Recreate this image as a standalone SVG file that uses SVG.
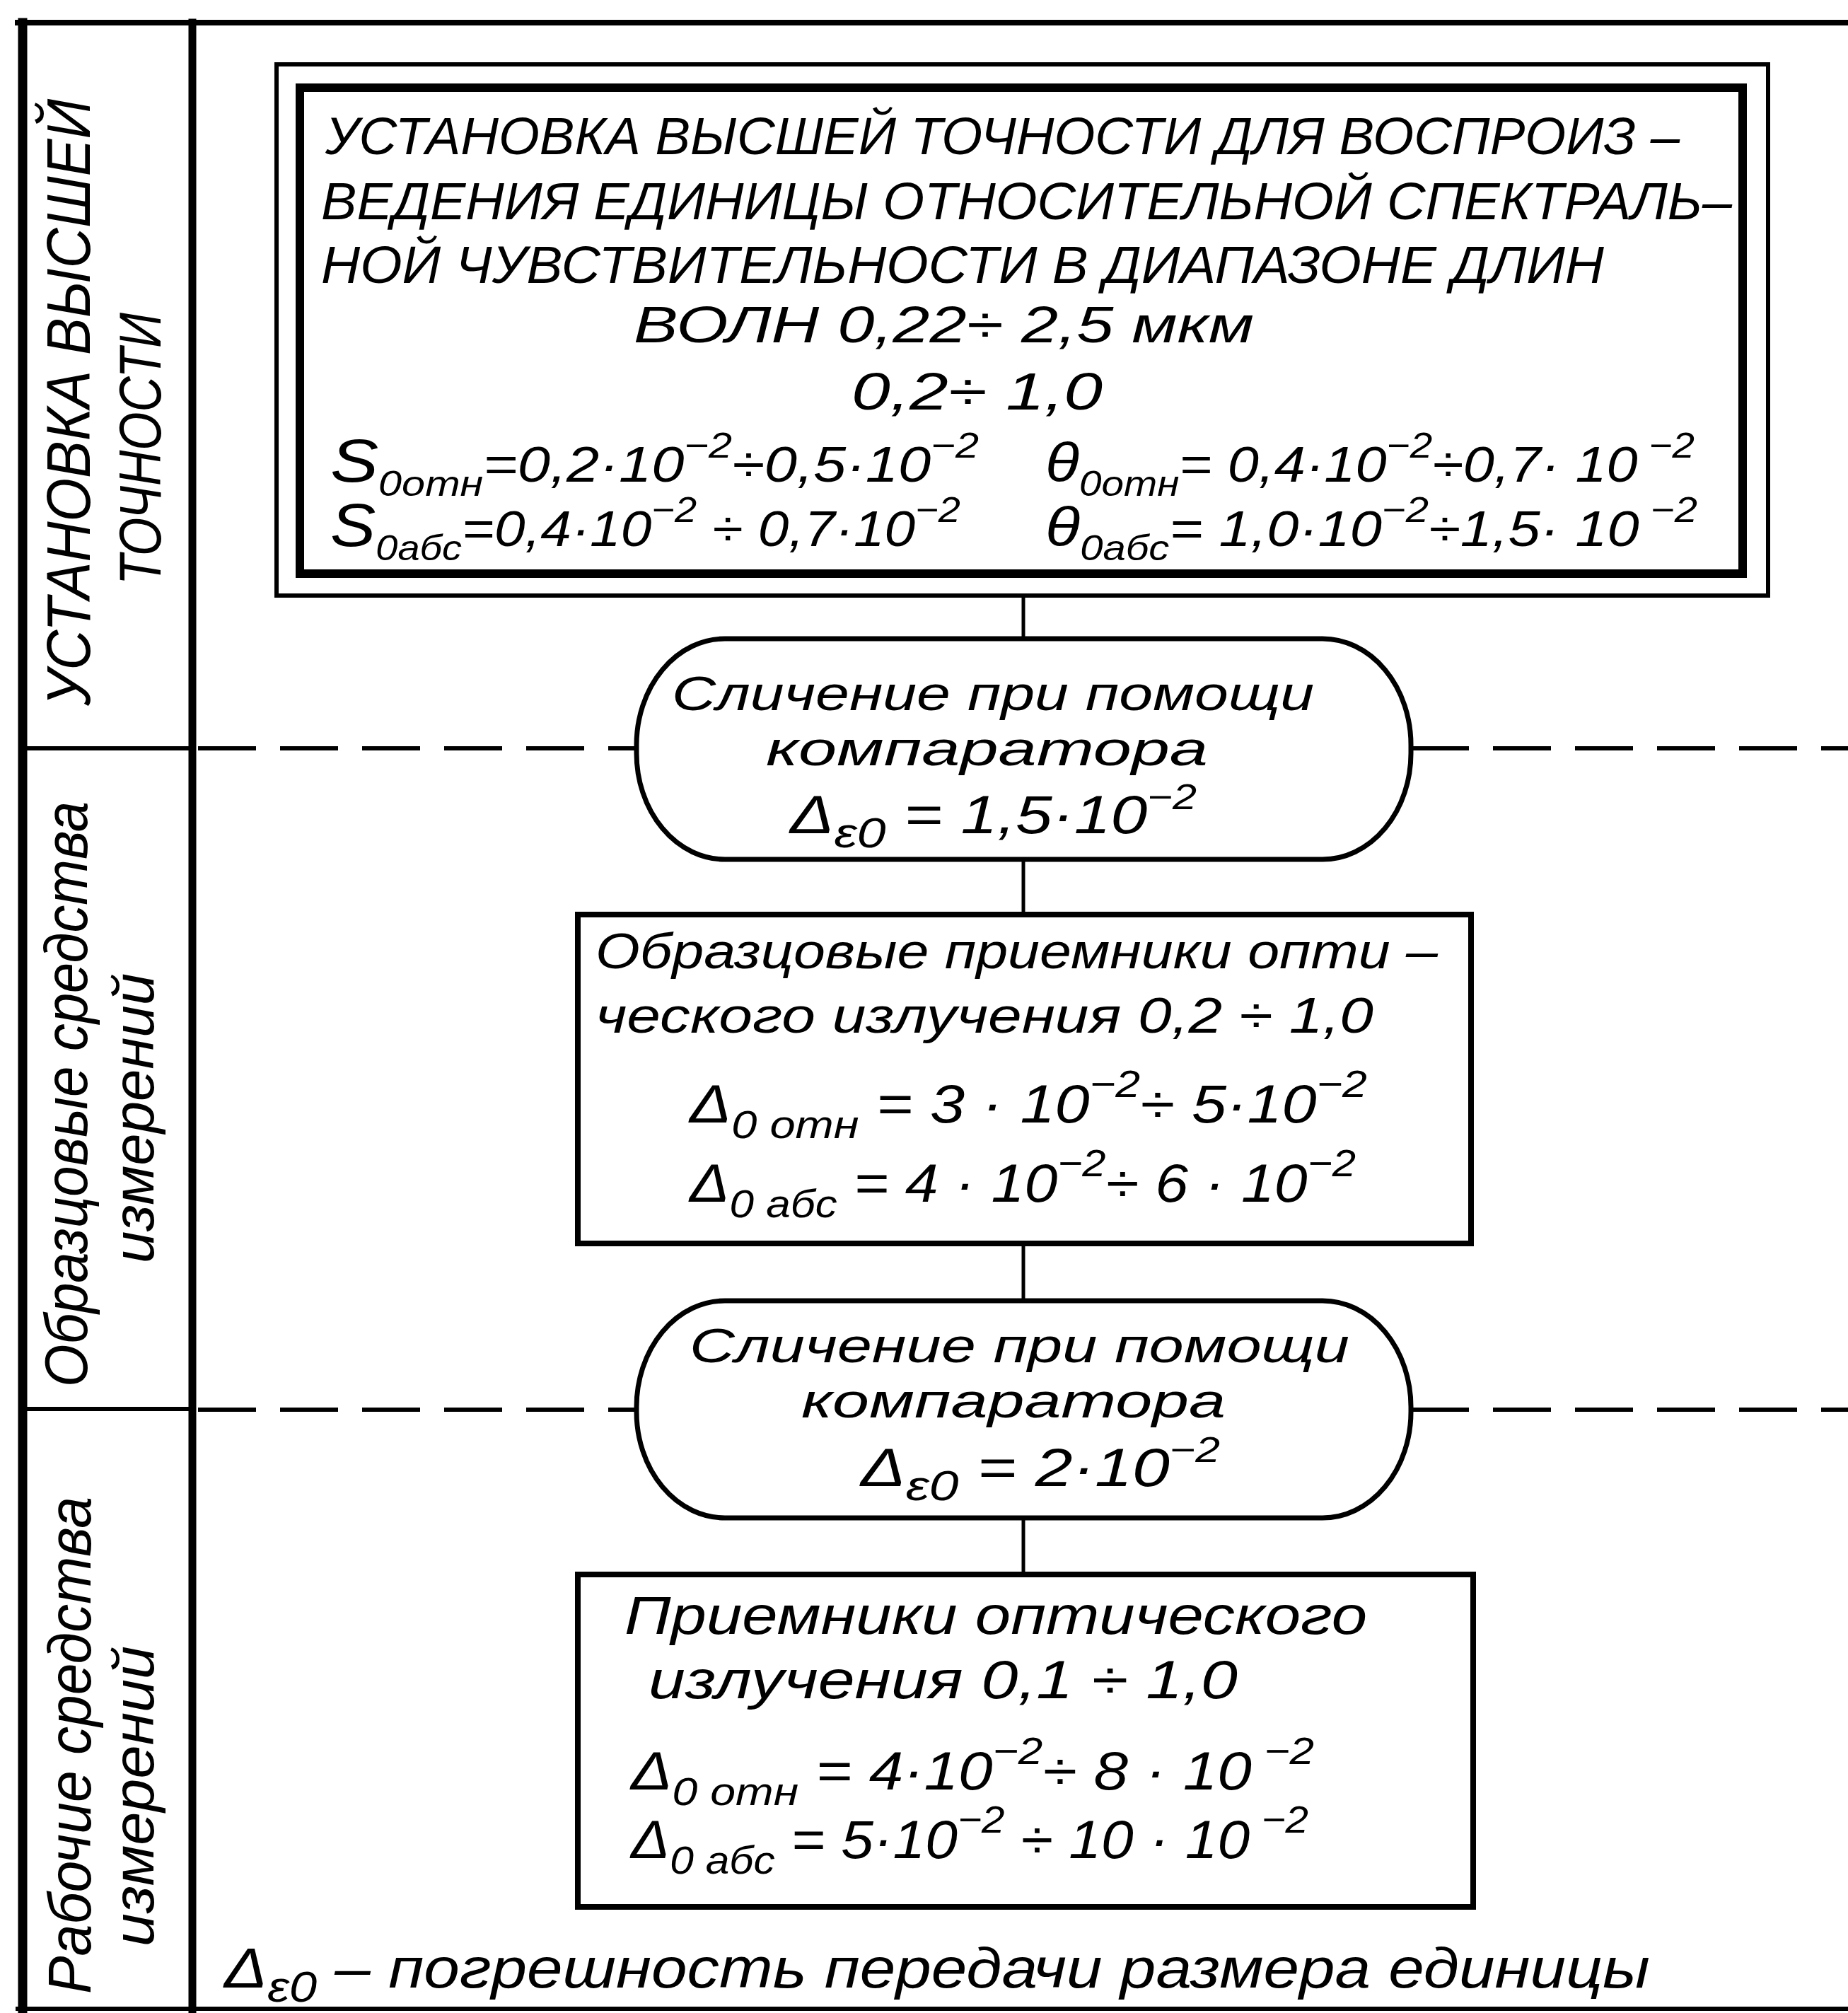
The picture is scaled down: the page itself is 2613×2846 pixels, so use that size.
<svg xmlns="http://www.w3.org/2000/svg" width="2613" height="2846" viewBox="0 0 2613 2846">
<style>
  .t { font-family: "Liberation Sans", "DejaVu Sans", sans-serif; font-style: italic; fill: #000; }
  .frame { stroke: #000; fill: none; stroke-linecap: square; }
  .box { stroke: #000; fill: #fff; }
  .dash { stroke: #000; stroke-width: 6; stroke-dasharray: 82 34; fill: none; }
  .conn { stroke: #000; stroke-width: 5; fill: none; }
</style>
<rect x="0" y="0" width="2613" height="2846" fill="#fff"/>

<g id="frame">
  <line class="frame" x1="25" y1="32" x2="2613" y2="32" stroke-width="8"/>
  <line class="frame" x1="32" y1="32" x2="32" y2="2846" stroke-width="13"/>
  <line class="frame" x1="272" y1="32" x2="272" y2="2846" stroke-width="11"/>
  <line class="frame" x1="32" y1="1058" x2="272" y2="1058" stroke-width="6"/>
  <line class="frame" x1="32" y1="1992" x2="272" y2="1992" stroke-width="6"/>
  <line class="frame" x1="25" y1="2840" x2="2613" y2="2840" stroke-width="6"/>
</g>

<g id="lane-labels">
  <text class="t" font-size="88" transform="translate(127,998) rotate(-90)" textLength="858" lengthAdjust="spacingAndGlyphs">УСТАНОВКА  ВЫСШЕЙ</text>
  <text class="t" font-size="84" transform="translate(227,827) rotate(-90)" textLength="385" lengthAdjust="spacingAndGlyphs">ТОЧНОСТИ</text>
  <text class="t" font-size="86" transform="translate(123,1961) rotate(-90)" textLength="828" lengthAdjust="spacingAndGlyphs">Образцовые средства</text>
  <text class="t" font-size="82" transform="translate(217,1786) rotate(-90)" textLength="410" lengthAdjust="spacingAndGlyphs">измерений</text>
  <text class="t" font-size="86" transform="translate(128,2819) rotate(-90)" textLength="703" lengthAdjust="spacingAndGlyphs">Рабочие средства</text>
  <text class="t" font-size="82" transform="translate(217,2752) rotate(-90)" textLength="425" lengthAdjust="spacingAndGlyphs">измерений</text>
</g>

<g id="connectors">
  <line class="dash" x1="280" y1="1058" x2="900" y2="1058"/>
  <line class="dash" x1="1995" y1="1058" x2="2613" y2="1058"/>
  <line class="dash" x1="280" y1="1993" x2="900" y2="1993"/>
  <line class="dash" x1="1995" y1="1993" x2="2613" y2="1993"/>
  <line class="conn" x1="1447" y1="840" x2="1447" y2="903"/>
  <line class="conn" x1="1447" y1="1215" x2="1447" y2="1293"/>
  <line class="conn" x1="1447" y1="1758" x2="1447" y2="1839"/>
  <line class="conn" x1="1447" y1="2146" x2="1447" y2="2226"/>
</g>

<g id="node-standard">
  <rect class="box" x="391" y="91" width="2109" height="751" stroke-width="6"/>
  <rect class="box" x="424" y="124" width="2040" height="687" stroke-width="12"/>
  <text class="t" font-size="74" x="460" y="218" textLength="1915" lengthAdjust="spacingAndGlyphs">УСТАНОВКА ВЫСШЕЙ ТОЧНОСТИ ДЛЯ ВОСПРОИЗ –</text>
  <text class="t" font-size="74" x="454" y="310" textLength="1995" lengthAdjust="spacingAndGlyphs">ВЕДЕНИЯ ЕДИНИЦЫ ОТНОСИТЕЛЬНОЙ СПЕКТРАЛЬ–</text>
  <text class="t" font-size="74" x="454" y="400" textLength="1814" lengthAdjust="spacingAndGlyphs">НОЙ ЧУВСТВИТЕЛЬНОСТИ В ДИАПАЗОНЕ ДЛИН</text>
  <text class="t" font-size="72" x="896" y="484" textLength="877" lengthAdjust="spacingAndGlyphs">ВОЛН 0,22÷ 2,5 мкм</text>
  <text class="t" font-size="74" x="1204" y="579" textLength="355" lengthAdjust="spacingAndGlyphs">0,2÷ 1,0</text>
  <text class="t" font-size="70" x="467" y="681" textLength="917" lengthAdjust="spacingAndGlyphs"><tspan font-size="86">S</tspan><tspan font-size="50" dy="20">0отн</tspan><tspan dy="-20">=0,2·10</tspan><tspan font-size="50" dy="-34">−2</tspan><tspan dy="34">÷0,5·10</tspan><tspan font-size="50" dy="-34">−2</tspan></text>
  <text class="t" font-size="70" x="1478" y="681" textLength="918" lengthAdjust="spacingAndGlyphs"><tspan font-size="78">θ</tspan><tspan font-size="50" dy="20">0отн</tspan><tspan dy="-20">= 0,4·10</tspan><tspan font-size="50" dy="-34">−2</tspan><tspan dy="34">÷0,7· 10</tspan><tspan font-size="50" dy="-34"> −2</tspan></text>
  <text class="t" font-size="70" x="467" y="772" textLength="891" lengthAdjust="spacingAndGlyphs"><tspan font-size="86">S</tspan><tspan font-size="50" dy="20">0абс</tspan><tspan dy="-20">=0,4·10</tspan><tspan font-size="50" dy="-34">−2</tspan><tspan dy="34"> ÷ 0,7·10</tspan><tspan font-size="50" dy="-34">−2</tspan></text>
  <text class="t" font-size="70" x="1478" y="772" textLength="922" lengthAdjust="spacingAndGlyphs"><tspan font-size="78">θ</tspan><tspan font-size="50" dy="20">0абс</tspan><tspan dy="-20">= 1,0·10</tspan><tspan font-size="50" dy="-34">−2</tspan><tspan dy="34">÷1,5· 10</tspan><tspan font-size="50" dy="-34"> −2</tspan></text>
</g>

<g id="node-compare-1">
  <rect class="box" x="900" y="903" width="1095" height="312" rx="125" ry="150" stroke-width="7"/>
  <text class="t" font-size="69" x="950" y="1004" textLength="908" lengthAdjust="spacingAndGlyphs">Сличение при помощи</text>
  <text class="t" font-size="69" x="1083" y="1082" textLength="625" lengthAdjust="spacingAndGlyphs">компаратора</text>
  <text class="t" font-size="76" x="1117" y="1178" textLength="575" lengthAdjust="spacingAndGlyphs">Δ<tspan font-size="60" dy="20">ε0</tspan><tspan dy="-20"> = 1,5·10</tspan><tspan font-size="50" dy="-34">−2</tspan></text>
</g>

<g id="node-reference">
  <rect class="box" x="817" y="1293" width="1263" height="465" stroke-width="8"/>
  <text class="t" font-size="70" x="842" y="1369" textLength="1191" lengthAdjust="spacingAndGlyphs">Образцовые приемники опти –</text>
  <text class="t" font-size="70" x="842" y="1460" textLength="1100" lengthAdjust="spacingAndGlyphs">ческого излучения  0,2 ÷ 1,0</text>
  <text class="t" font-size="76" x="975" y="1587" textLength="958" lengthAdjust="spacingAndGlyphs">Δ<tspan font-size="56" dy="22">0 отн</tspan><tspan dy="-22"> = 3 · 10</tspan><tspan font-size="54" dy="-36">−2</tspan><tspan dy="36">÷ 5·10</tspan><tspan font-size="54" dy="-36">−2</tspan></text>
  <text class="t" font-size="76" x="975" y="1699" textLength="942" lengthAdjust="spacingAndGlyphs">Δ<tspan font-size="56" dy="22">0 абс</tspan><tspan dy="-22"> = 4 · 10</tspan><tspan font-size="54" dy="-36">−2</tspan><tspan dy="36">÷ 6 · 10</tspan><tspan font-size="54" dy="-36">−2</tspan></text>
</g>

<g id="node-compare-2">
  <rect class="box" x="900" y="1839" width="1095" height="307" rx="125" ry="150" stroke-width="7"/>
  <text class="t" font-size="69" x="975" y="1926" textLength="933" lengthAdjust="spacingAndGlyphs">Сличение при помощи</text>
  <text class="t" font-size="69" x="1133" y="2004" textLength="600" lengthAdjust="spacingAndGlyphs">компаратора</text>
  <text class="t" font-size="76" x="1217" y="2101" textLength="508" lengthAdjust="spacingAndGlyphs">Δ<tspan font-size="60" dy="20">ε0</tspan><tspan dy="-20"> = 2·10</tspan><tspan font-size="50" dy="-34">−2</tspan></text>
</g>

<g id="node-working">
  <rect class="box" x="817" y="2226" width="1266" height="470" stroke-width="8"/>
  <text class="t" font-size="76" x="883" y="2310" textLength="1050" lengthAdjust="spacingAndGlyphs">Приемники оптического</text>
  <text class="t" font-size="76" x="917" y="2401" textLength="833" lengthAdjust="spacingAndGlyphs">излучения  0,1 ÷ 1,0</text>
  <text class="t" font-size="76" x="892" y="2530" textLength="966" lengthAdjust="spacingAndGlyphs">Δ<tspan font-size="56" dy="22">0 отн</tspan><tspan dy="-22"> = 4·10</tspan><tspan font-size="54" dy="-36">−2</tspan><tspan dy="36">÷ 8 · 10</tspan><tspan font-size="54" dy="-36"> −2</tspan></text>
  <text class="t" font-size="76" x="892" y="2627" textLength="958" lengthAdjust="spacingAndGlyphs">Δ<tspan font-size="56" dy="22">0 абс</tspan><tspan dy="-22"> = 5·10</tspan><tspan font-size="54" dy="-36">−2</tspan><tspan dy="36"> ÷ 10 · 10</tspan><tspan font-size="54" dy="-36"> −2</tspan></text>
</g>

<g id="footnote">
  <text class="t" font-size="80" x="317" y="2810" textLength="2016" lengthAdjust="spacingAndGlyphs">Δ<tspan font-size="62" dy="20">ε0</tspan><tspan dy="-20"> – погрешность  передачи  размера  единицы</tspan></text>
</g>
</svg>
